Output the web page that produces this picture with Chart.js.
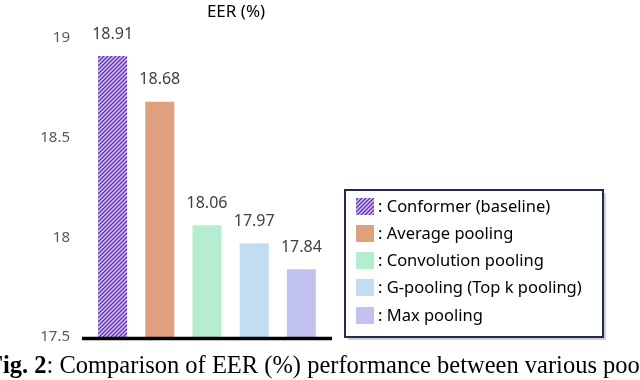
<!DOCTYPE html>
<html>
<head>
<meta charset="utf-8">
<script src="https://cdn.jsdelivr.net/npm/chart.js@4"></script>
<style>
  html, body { margin: 0; padding: 0; background: #fff; }
  #wrap { position: relative; width: 640px; height: 380px; overflow: hidden; }
  #caption { position: absolute; left: -12px; top: 351px; white-space: nowrap;
    font-family: "Liberation Serif", "DejaVu Serif", serif; font-size: 24.5px; color: #000; }
</style>
</head>
<body>
<div id="wrap">
  <canvas id="graf_eer" width="640" height="380"></canvas>
  <div id="caption"><b>Fig. 2</b>: Comparison of EER (%) performance between various pooling methods</div>
</div>
<script>
// data ------------------------------------------
const methods = ['Conformer (baseline)', 'Average pooling', 'Convolution pooling', 'G-pooling (Top k pooling)', 'Max pooling'];
const eerValues = [18.91, 18.68, 18.06, 17.97, 17.84];
const yTicks = [17.5, 18, 18.5, 19];
const barColors = ['hatch', '#DFA07E', '#B4EDCF', '#C2DDF2', '#C2C2EE'];

// hatched fill for the baseline bar
function makeHatch() {
  const c = document.createElement('canvas');
  c.width = 4; c.height = 4;
  const g = c.getContext('2d');
  g.fillStyle = '#CFC6F4';
  g.fillRect(0, 0, 4, 4);
  g.strokeStyle = '#6A2FB0';
  g.lineWidth = 1.3;
  g.beginPath();
  g.moveTo(0, 4); g.lineTo(4, 0);
  g.moveTo(-1, 1); g.lineTo(1, -1);
  g.moveTo(3, 5); g.lineTo(5, 3);
  g.stroke();
  return g.createPattern(c, 'repeat');
}
const ctx = document.getElementById('graf_eer').getContext('2d');
const hatch = makeHatch();
const fills = barColors.map(c => c === 'hatch' ? hatch : c);

const fontSans = '"Noto Sans", "DejaVu Sans", sans-serif';

// extra drawing: title, value labels, axis line, legend box
const decorPlugin = {
  id: 'decor',
  afterDatasetsDraw(chart) {
    const g = chart.ctx;
    const y = chart.scales.y;
    g.save();
    // title
    g.fillStyle = '#000';
    g.font = '17px ' + fontSans;
    g.textAlign = 'center';
    g.textBaseline = 'middle';
    g.fillText('EER (%)', 236, 12);
    // value labels
    g.fillStyle = '#404040';
    g.font = '16px ' + fontSans;
    chart.getDatasetMeta(0).data.forEach((bar, i) => {
      g.fillText(eerValues[i].toFixed(2), bar.x, bar.y - 22);
    });
    // base axis line
    const yb = y.getPixelForValue(yTicks[0]);
    g.strokeStyle = '#000';
    g.lineWidth = 3.5;
    g.beginPath();
    g.moveTo(82, yb + 1.5);
    g.lineTo(332, yb + 1.5);
    g.stroke();
    // legend box with shadow
    const bx = 345, by = 190, bw = 258, bh = 147;
    g.fillStyle = 'rgba(0,0,0,0.18)';
    g.fillRect(bx + 3, by + 3, bw, bh);
    g.fillStyle = '#fff';
    g.fillRect(bx, by, bw, bh);
    g.strokeStyle = '#1F2D4A';
    g.lineWidth = 2;
    g.strokeRect(bx, by, bw, bh);
    const rows = [207, 234, 261, 288, 316];
    g.font = '16.5px ' + fontSans;
    g.textAlign = 'left';
    methods.forEach((m, i) => {
      g.fillStyle = fills[i];
      g.fillRect(356, rows[i] - 9, 18, 17);
      g.fillStyle = '#000';
      g.fillText(': ' + m, 378, rows[i]);
    });
    g.restore();
  }
};

new Chart(ctx, {
  type: 'bar',
  data: {
    labels: methods,
    datasets: [{
      data: eerValues,
      backgroundColor: fills,
      borderWidth: 0,
      barPercentage: 0.615,
      categoryPercentage: 1
    }]
  },
  options: {
    responsive: false,
    animation: false,
    layout: { padding: { top: 38, bottom: 43, right: 315, left: 0 } },
    plugins: { legend: { display: false }, tooltip: { enabled: false } },
    scales: {
      x: { display: false },
      y: {
        min: yTicks[0],
        max: yTicks[yTicks.length - 1],
        afterFit(scale) { scale.width = 89; },
        afterBuildTicks(scale) { scale.ticks = yTicks.map(v => ({ value: v })); },
        grid: { display: false, drawTicks: false },
        border: { display: false },
        ticks: {
          padding: 19,
          color: '#595959',
          font: { family: fontSans, size: 15 },
          callback: v => String(v)
        }
      }
    }
  },
  plugins: [decorPlugin]
});
</script>
</body>
</html>
